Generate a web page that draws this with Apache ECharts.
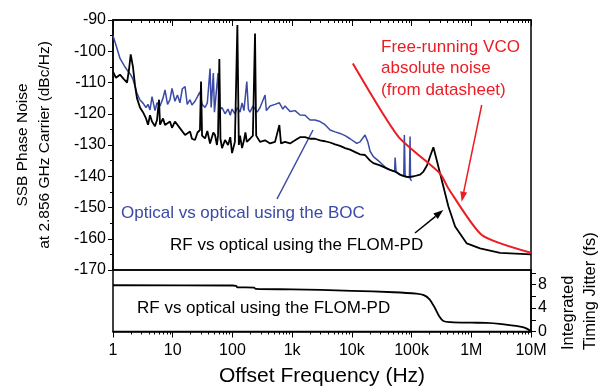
<!DOCTYPE html>
<html>
<head>
<meta charset="utf-8">
<script src="https://cdn.jsdelivr.net/npm/echarts@6/dist/echarts.min.js"></script>
<style>
  html, body { margin: 0; padding: 0; background: #fff; }
  #chart { width: 602px; height: 391px; }
</style>
</head>
<body>
<div id="chart"></div>
<script>
// decade labels on the shared frequency axis
const xTickLabels = ['1', '10', '100', '1k', '10k', '100k', '1M', '10M'];

// RF vs optical using the FLOM-PD (black)
const blackFreq = [1, 1.12, 1.31, 1.53, 1.72, 1.85, 1.98, 2.16, 2.34, 2.52, 2.83, 3.18, 3.57, 3.86, 4.17, 4.5,
  5.05, 5.46, 5.9, 6.13, 6.88, 7.43, 9.0, 9.73, 10.9, 13.2, 16.1, 19.5, 21, 23.6, 26, 28.6, 29.8, 31, 34.8, 38,
  42.2, 47.9, 51.1, 55, 57.4, 60.4, 63, 67, 75.2, 84.4, 92, 98.5, 110, 121, 128, 134, 145, 156, 165, 174, 197,
  220, 239, 250, 290, 352, 427, 517, 611, 650, 760, 922, 1119, 1355, 1644, 1995, 2420, 2932, 3557, 4315, 5236,
  6346, 7700, 9330, 12080, 13700, 16600, 20200, 22900, 29600, 38400, 43600, 53000, 64200, 75700, 84000, 94400,
  110000, 139000, 158000, 182000, 204000, 232000, 257000, 320000, 414000, 536000, 841000, 1400000, 3030000, 10000000];
const blackDb = [-106.5, -108.5, -107.5, -109, -110, -106, -101, -105, -111, -115, -118, -119.5, -121.5, -123.5, -120.5, -122.5,
  -124, -122, -115.5, -123.5, -121.5, -123.6, -122.5, -124.5, -122.5, -124.6, -126.8, -125.7, -128, -128.4, -126, -125.2, -109.7, -127, -127.9, -125.5,
  -129.5, -126, -126.8, -130, -127, -102.5, -128, -131, -128.4, -130, -127.5, -132.6, -129, -91.6, -130, -127, -131, -128.5, -126, -129, -128,
  -127, -94.3, -127, -129, -128.5, -129.5, -129, -123.6, -129.5, -129, -129.5, -128.5, -127.5, -127.5, -128, -128, -128.5, -128.8, -129.2, -129.8,
  -130.3, -131, -131.5, -132.5, -133, -133.2, -135, -135.8, -136.5, -137.5, -138, -138.5, -139.5, -140, -140.2, -140.2,
  -140, -139.5, -138.5, -136.5, -133.7, -130.7, -134, -141.2, -149.7, -156.1, -161.5, -163.1, -164.5, -165];

// Optical vs optical using the BOC (blue)
const blueFreq = [1, 1.12, 1.31, 1.53, 1.72, 1.98, 2.16, 2.34, 2.52, 2.83, 3.18, 3.57, 3.86, 4.17, 4.5, 5.05,
  5.46, 6.13, 6.88, 7.43, 8.2, 9.0, 9.73, 10.9, 12, 13.2, 14.5, 16.1, 17.5, 19.5, 21, 23.6, 26, 28.6, 31, 34.8,
  38, 42.2, 44, 47.9, 50, 57.4, 60, 67, 75.2, 84.4, 92, 98.5, 110, 121, 134, 145, 156, 174, 185, 197, 220, 260,
  290, 352, 370, 427, 517, 611, 700, 760, 922, 1119, 1355, 1644, 1995, 2420, 2932, 3557, 4315, 5236, 6346, 7700,
  9330, 12080, 13700, 16600, 18500, 20200, 22900, 29600, 38400, 45000, 52000, 53000, 55000, 64200, 74000, 75700,
  78000, 84000, 92000, 94400, 96000, 100000];
const blueDb = [-95, -98, -102.3, -104.5, -106, -107.5, -109, -111.3, -113.5, -115.6, -116.6, -118, -117, -118.8, -114.5, -119,
  -116.5, -117.5, -115, -112.4, -117, -115.5, -111.9, -116, -114, -116.5, -112, -111.3, -117, -115.5, -117.2, -116, -114.5, -113, -117, -118,
  -116.5, -105.5, -118, -107, -119.5, -107, -119, -118, -120, -118.5, -120.5, -118.5, -120, -118, -119.5, -116.5, -119, -109.7, -118.5, -119.5, -117.5, -119.5,
  -118, -114, -119, -117.5, -117, -116.5, -118.5, -117.5, -119.3, -119, -120.4, -120.5, -122, -122, -122.5, -123.5, -125.2, -125.8, -126.3, -127,
  -128, -129.5, -129, -126.8, -129, -132, -133.7, -135.5, -137.5, -138, -138.5, -134, -138.5, -139.5, -140, -126.8,
  -140, -140.5, -140.5, -127.3, -141, -141.5];

// Free-running VCO absolute noise, datasheet (red)
const redFreq = [10400, 60000, 300000, 414000, 1500000, 10000000];
const redDb = [-103.9, -127.3, -139.1, -143.9, -158.8, -164.5];

// integrated timing jitter, FLOM-PD (fs)
const jitterFreq = [1, 100, 115, 121, 230, 245, 1000, 3000, 10000, 50000, 120000, 160000, 200000, 245000,
  290000, 340000, 450000, 1000000, 1800000, 3000000, 6600000, 8500000, 10000000];
const jitterFs = [7.9, 7.85, 7.8, 7.55, 7.5, 7.28, 7.2, 7.1, 6.95, 6.7, 6.45, 6.2, 5.5, 4.05,
  2.6, 1.8, 1.6, 1.5, 1.47, 1.3, 0.83, 0.5, 0];

const FONT = 'Liberation Sans, Arial, sans-serif';
const INK = '#000';
const zip = (xs, ys) => xs.map((x, i) => [x, ys[i]]);

const chart = echarts.init(document.getElementById('chart'));

const arrow = (x1, y1, x2, y2, color) => {
  const dx = x2 - x1, dy = y2 - y1, L = Math.hypot(dx, dy);
  const ux = dx / L, uy = dy / L, bx = x2 - ux * 10, by = y2 - uy * 10;
  return [
    { type: 'line', shape: { x1, y1, x2: bx, y2: by }, style: { stroke: color, lineWidth: 1.5 } },
    { type: 'polygon', shape: { points: [[x2, y2], [bx - uy * 3.5, by + ux * 3.5], [bx + uy * 3.5, by - ux * 3.5]] },
      style: { fill: color } }
  ];
};

const txt = (x, y, text, color, size, rot) => ({
  type: 'text', x, y, rotation: rot || 0,
  style: { text, fill: color, font: (size || 17) + 'px ' + FONT, textVerticalAlign: 'middle', textAlign: 'left' }
});

// the log axes keep ECharts' own ticks: decades, with 9 log-spaced minor splits
chart.setOption({
  animation: false,
  textStyle: { fontFamily: FONT },
  grid: [
    { left: 113, top: 20, width: 418, height: 250, show: true, borderColor: INK, borderWidth: 1.5 },
    { left: 113, top: 270, width: 418, height: 61.5, show: true, borderColor: INK, borderWidth: 1.5 }
  ],
  xAxis: [
    {
      type: 'log', gridIndex: 0, position: 'top', min: 1, max: 1e7, splitNumber: 7, logBase: 10,
      axisTick: { inside: true, length: 6, lineStyle: { color: INK } },
      minorTick: { show: true, splitNumber: 9, length: 3, lineStyle: { color: INK } },
      axisLine: { lineStyle: { color: INK, width: 1.5 } },
      axisLabel: { color: 'rgba(0,0,0,0)', fontSize: 1 },
      splitLine: { show: false }
    },
    {
      type: 'log', gridIndex: 1, position: 'bottom', min: 1, max: 1e7, splitNumber: 7, logBase: 10,
      axisTick: { length: 6, lineStyle: { color: INK } },
      minorTick: { show: true, splitNumber: 9, length: 3, lineStyle: { color: INK } },
      axisLine: { lineStyle: { color: INK, width: 1.5 } },
      axisLabel: {
        color: INK, fontSize: 16, margin: 11,
        formatter: v => xTickLabels[Math.round(Math.log10(v))]
      },
      splitLine: { show: false },
      name: 'Offset Frequency (Hz)', nameLocation: 'middle', nameGap: 34,
      nameTextStyle: { color: INK, fontSize: 21 }
    }
  ],
  yAxis: [
    {
      type: 'value', gridIndex: 0, min: -170, max: -90, interval: 10,
      axisLine: { show: true, lineStyle: { color: INK, width: 1.5 } },
      axisTick: { show: true, length: 5, lineStyle: { color: INK } },
      minorTick: { show: true, splitNumber: 2, length: 3, lineStyle: { color: INK } },
      axisLabel: { color: INK, fontSize: 16, margin: 7 },
      splitLine: { show: false },
      name: 'SSB Phase Noise\nat 2.856 GHz Carrier (dBc/Hz)', nameLocation: 'middle', nameGap: 57,
      nameTextStyle: { color: INK, fontSize: 15.5, lineHeight: 22 }
    },
    {
      type: 'value', gridIndex: 1, position: 'right', min: 0, max: 10.5, interval: 2,
      axisLine: { show: true, lineStyle: { color: INK, width: 1.5 } },
      axisTick: { show: true, length: 5, lineStyle: { color: INK } },
      axisLabel: {
        color: INK, fontSize: 16, margin: 7, showMaxLabel: false,
        formatter: v => (v % 4 === 0 ? String(v) : '')
      },
      splitLine: { show: false }
    }
  ],
  series: [
    {
      name: 'Optical vs optical using the BOC', type: 'line', xAxisIndex: 0, yAxisIndex: 0,
      data: zip(blueFreq, blueDb), showSymbol: false, symbol: 'none',
      lineStyle: { color: '#3a4aa6', width: 1.5 }
    },
    {
      name: 'RF vs optical using the FLOM-PD', type: 'line', xAxisIndex: 0, yAxisIndex: 0,
      data: zip(blackFreq, blackDb), showSymbol: false, symbol: 'none',
      lineStyle: { color: INK, width: 1.8 }
    },
    {
      name: 'Free-running VCO', type: 'line', xAxisIndex: 0, yAxisIndex: 0,
      data: zip(redFreq, redDb), showSymbol: false, symbol: 'none', smooth: 0.2,
      lineStyle: { color: '#ec1c24', width: 2 }
    },
    {
      name: 'Integrated jitter', type: 'line', xAxisIndex: 1, yAxisIndex: 1,
      data: zip(jitterFreq, jitterFs), showSymbol: false, symbol: 'none', smooth: 0.3,
      lineStyle: { color: INK, width: 1.8 }
    }
  ],
  graphic: [
    txt(381, 47, 'Free-running VCO', '#ec1c24'),
    txt(381, 68.5, 'absolute noise', '#ec1c24'),
    txt(381, 90, '(from datasheet)', '#ec1c24'),
    ...arrow(481.7, 105, 461.7, 201.7, '#ec1c24'),
    txt(121, 213, 'Optical vs optical using the BOC', '#3a4aa6'),
    { type: 'line', shape: { x1: 277, y1: 199, x2: 313, y2: 130 }, style: { stroke: '#3a4aa6', lineWidth: 1.5 } },
    txt(170, 245, 'RF vs optical using the FLOM-PD', INK),
    ...arrow(415, 233, 443.3, 210, INK),
    txt(137, 308, 'RF vs optical using the FLOM-PD', INK),
    txt(568, 350, 'Integrated', INK, 16.5, Math.PI / 2),
    txt(590, 350, 'Timing Jitter (fs)', INK, 16.5, Math.PI / 2)
  ]
});
</script>
</body>
</html>
